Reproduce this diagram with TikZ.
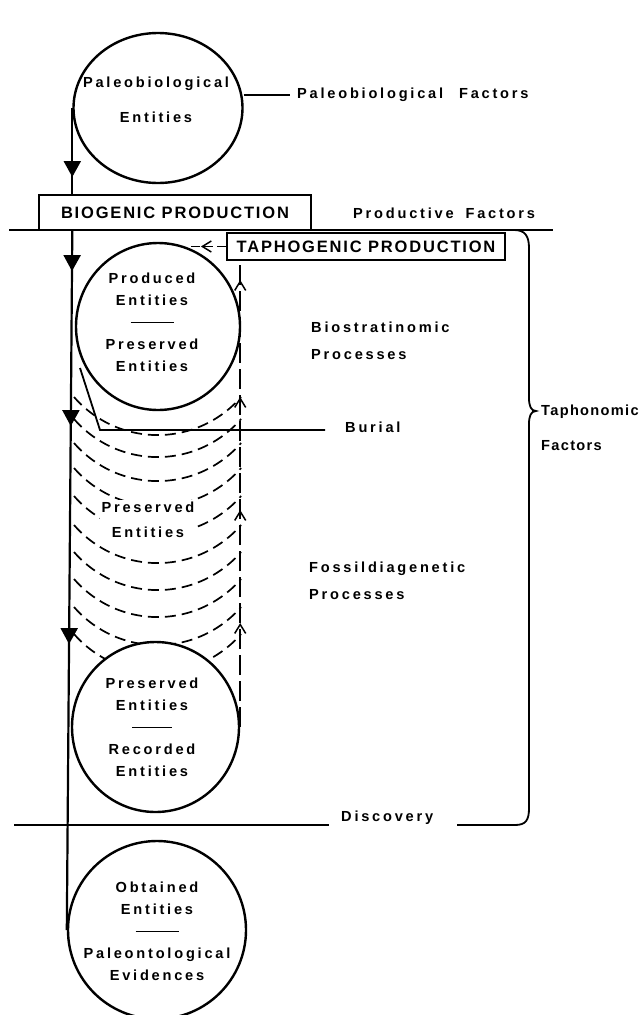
\documentclass[tikz,border=0pt]{standalone}
\usepackage{fontspec}
\setmainfont{Liberation Sans}[LetterSpace=19]
\newfontfamily\boxfont{Liberation Sans}[LetterSpace=11]
\newfontfamily\tightfont{Liberation Sans}[LetterSpace=9]
\usetikzlibrary{shapes.geometric}
\usetikzlibrary{arrows.meta}
\usetikzlibrary{decorations.markings}
\newcommand{\flowtip}{\arrow{Triangle[width=17pt,length=16pt]}}
\newcommand{\backtip}{\arrow{Straight Barb[width=11pt,length=9pt,line width=1.5pt]}}
\tikzset{
  entity/.style={ellipse, draw, line width=2.4pt, fill=white, inner sep=0pt},
  enttext/.style={align=center, inner sep=0pt, font=\bfseries\fontsize{14.6}{22}\selectfont},
  prodbox/.style={draw, line width=2.2pt, fill=white, inner sep=0pt, font=\boxfont\bfseries\fontsize{16.5}{17}\selectfont},
  factor/.style={anchor=west, align=left, inner sep=0pt, font=\bfseries\fontsize{14.6}{27}\selectfont},
  boundary/.style={line width=1.8pt},
  flow/.style={line width=2.2pt, postaction={decorate}},
  layerdash/.style={dash pattern=on 11pt off 6pt, line width=1.7pt},
  taphdash/.style={dash pattern=on 20pt off 6pt, line width=1.7pt, postaction={decorate}},
}

\begin{document}
\begin{tikzpicture}[x=1pt,y=-1pt]
\useasboundingbox (0,0) rectangle (642,1015);

% buried layers
\foreach \y in {397,419,443,468,496,525,552,579,607,634}
  \draw[layerdash] (74,\y) arc[start angle=221, end angle=319, radius=110.7pt];

% entities
\node[entity, minimum width=169, minimum height=150] (pent) at (158,108) {};
\node[enttext] (pent-t) at (156,100) {Paleobiological\\[13pt]Entities};
\node[entity, minimum width=164, minimum height=167] (prod) at (158,326.5) {};
\node[enttext] (prod-t) at (152,322) {Produced\\Entities\\\rule[4pt]{43pt}{1.6pt}\\Preserved\\Entities};
\node[enttext, fill=white, inner sep=2pt] (pres-t) at (148,520) {Preserved\\[3pt]Entities};
\node[entity, minimum width=167, minimum height=170] (rec) at (155.5,727) {};
\node[enttext] (rec-t) at (152,727) {Preserved\\Entities\\\rule[4pt]{40pt}{1.6pt}\\Recorded\\Entities};
\node[entity, minimum width=178, minimum height=178] (obt) at (157,930) {};
\node[enttext] (obt-t) at (157,931) {Obtained\\Entities\\\rule[4pt]{43pt}{1.6pt}\\Paleontological\\Evidences};

% production
\draw[boundary] (9,230) -- (553,230);
\node[prodbox, minimum width=272, minimum height=35] (bio) at (175,212.5) {BIOGENIC PRODUCTION};
\node[prodbox, minimum width=278, minimum height=27] (taph) at (366,246.5) {TAPHOGENIC PRODUCTION};

% factors
\node[factor] (paleofac) at (297,95) {Paleobiological\hspace{16pt}Factors};
\node[factor] (prodfac) at (353,213) {Productive\hspace{12pt}Factors};
\node[factor] (biolbl) at (311,341) {Biostratinomic\\Processes};
\node[factor] (burlbl) at (345,427) {Burial};
\node[factor] (fosslbl) at (309,581) {Fossildiagenetic\\Processes};
\node[factor, font=\tightfont\bfseries\fontsize{14.6}{35}\selectfont] (taphlbl) at (541,428) {Taphonomic\\Factors};
\node[factor] (disclbl) at (341,818) {Discovery};

\draw[boundary] (pent.east |- paleofac.west) -- ([xshift=-7pt]paleofac.west);

% burial
\coordinate (bur-a) at (80,368);
\coordinate (bur-b) at (100,430);
\draw[boundary] (bur-a) -- (bur-b) -- ([xshift=-20pt]burlbl.west |- bur-b);

% discovery and taphonomic brace
\coordinate (disc-l) at (14,825);
\draw[boundary] (disc-l) -- ([xshift=-12pt]disclbl.west |- disc-l);
\draw[boundary] (457,825) -- (515,825) .. controls (526,825) and (529,820) .. (529,808)
  -- (529,424) .. controls (529,416) and (531,411) .. (536,411)
  .. controls (531,411) and (529,406) .. (529,398)
  -- (529,248) .. controls (529,236) and (525,230) .. (514,230);

% main flow
\draw[flow, decoration={markings, mark=at position 69pt with {\flowtip}}]
  (pent.west) -- (pent.west |- bio.north);
\draw[flow, decoration={markings,
    mark=at position 40pt with {\flowtip},
    mark=at position 195pt with {\flowtip},
    mark=at position 413pt with {\flowtip}}]
  (pent.west |- bio.south) -- (obt.west);

% taphogenic feedback
\coordinate (taph-in) at (190,246.5);
\draw[taphdash, dash pattern=on 9pt off 4pt, decoration={markings, mark=at position 25pt with {\backtip}}]
  (taph.west) -- (taph-in);
\draw[taphdash, decoration={markings,
    mark=at position 104pt with {\backtip},
    mark=at position 217pt with {\backtip},
    mark=at position 330pt with {\backtip},
    mark=at position 447pt with {\backtip}}]
  (rec.east) -- (rec.east |- taph.south);
\end{tikzpicture}
\end{document}
